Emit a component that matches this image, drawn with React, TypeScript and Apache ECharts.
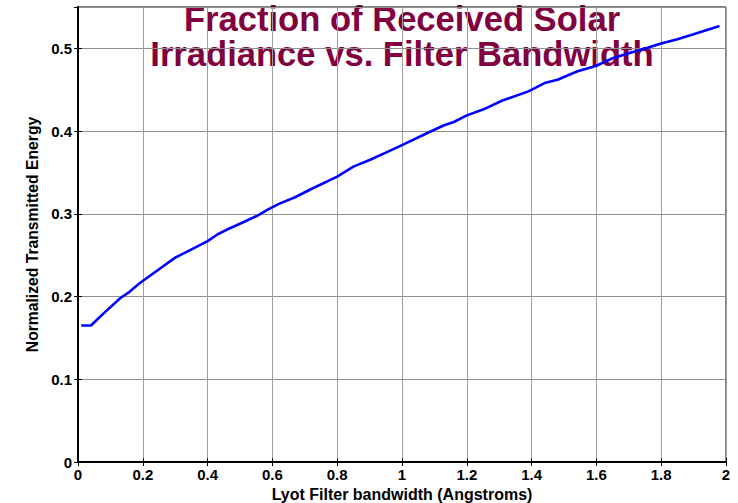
import React, { useEffect, useRef } from "react";
import * as echarts from "echarts";

const bandwidth = [0.01, 0.04, 0.08, 0.13, 0.16, 0.19, 0.25, 0.30, 0.34, 0.40, 0.43, 0.46, 0.50, 0.55, 0.59, 0.62, 0.67, 0.72, 0.80, 0.85, 0.90, 0.95, 1.00, 1.08, 1.13, 1.16, 1.20, 1.25, 1.31, 1.39, 1.44, 1.48, 1.54, 1.60, 1.65, 1.70, 1.76, 1.80, 1.85, 1.90, 1.98];
const energy = [0.165, 0.165, 0.180, 0.198, 0.206, 0.216, 0.233, 0.247, 0.255, 0.267, 0.275, 0.281, 0.288, 0.297, 0.306, 0.312, 0.320, 0.330, 0.345, 0.357, 0.365, 0.374, 0.383, 0.398, 0.407, 0.411, 0.419, 0.426, 0.437, 0.448, 0.458, 0.462, 0.472, 0.479, 0.488, 0.494, 0.501, 0.506, 0.511, 0.517, 0.527];

const titleLines = ["Fraction of Received Solar", "Irradiance vs. Filter Bandwidth"];
const xName = "Lyot Filter bandwidth (Angstroms)";
const yName = "Normalized Transmitted Energy";

const FONT = "'Liberation Sans', Arial, Helvetica, sans-serif";

export default function App() {
  const ref = useRef<HTMLDivElement>(null);
  useEffect(() => {
    if (!ref.current) return;
    const chart = echarts.init(ref.current, null, { renderer: "svg" });
    const labelStyle = { color: "#000", fontWeight: "bold" as const, fontSize: 15, fontFamily: FONT };
    chart.setOption({
      animation: false,
      backgroundColor: "#fff",
      grid: {
        left: 78, right: 12, top: 7, bottom: 41,
        containLabel: false, outerBoundsMode: "none",
        show: true, borderColor: "#000", borderWidth: 1, backgroundColor: "transparent", z: 0,
      },
      graphic: titleLines.map((t, i) => ({
        type: "text",
        x: 402,
        y: 19 + i * 34.5,
        z: -10,
        silent: true,
        style: {
          text: t,
          fill: "#800040",
          font: `bold 34.6px ${FONT}`,
          align: "center",
          verticalAlign: "middle",
          lineHeight: 30,
        },
      })),
      xAxis: [
        {
          type: "value",
          min: 0,
          max: 2,
          interval: 0.2,
          name: xName,
          nameLocation: "middle",
          nameGap: 23,
          nameTextStyle: { color: "#000", fontWeight: "bold", fontSize: 16, fontFamily: FONT },
          axisLine: { show: true, lineStyle: { color: "#000", width: 2 } },
          axisTick: { show: true, inside: true, length: 4, lineStyle: { color: "#000" } },
          axisLabel: { ...labelStyle, margin: 5 },
          splitLine: { show: true, lineStyle: { color: "#a0a0a0", width: 1 } },
        },
        {
          type: "value",
          position: "top",
          min: 0,
          max: 2,
          interval: 0.2,
          axisLine: { show: true, lineStyle: { color: "#000", width: 1.5 } },
          axisTick: { show: true, inside: true, length: 4, lineStyle: { color: "#000" } },
          axisLabel: { show: false },
          splitLine: { show: false },
        },
      ],
      yAxis: [
        {
          type: "value",
          min: 0,
          max: 0.55,
          interval: 0.1,
          name: yName,
          nameLocation: "middle",
          nameGap: 31,
          nameTextStyle: { color: "#000", fontWeight: "bold", fontSize: 15.7, fontFamily: FONT },
          axisLine: { show: true, lineStyle: { color: "#000", width: 2 } },
          axisTick: { show: true, inside: true, length: 4, lineStyle: { color: "#000" } },
          axisLabel: { ...labelStyle, margin: 6, showMaxLabel: false },
          splitLine: { show: true, lineStyle: { color: "#909090", width: 1 } },
        },
        {
          type: "value",
          position: "right",
          min: 0,
          max: 0.55,
          interval: 0.1,
          axisLine: { show: true, lineStyle: { color: "#000", width: 1.5 } },
          axisTick: { show: true, inside: true, length: 4, lineStyle: { color: "#000" } },
          axisLabel: { show: false },
          splitLine: { show: false },
        },
      ],
      series: [
        {
          type: "line",
          xAxisIndex: 0,
          yAxisIndex: 0,
          data: bandwidth.map((b, i) => [b, energy[i]]),
          showSymbol: false,
          symbol: "none",
          lineStyle: { color: "#0000ff", width: 2.6 },
          z: 5,
        },
      ],
    });
    return () => chart.dispose();
  }, []);
  return <div ref={ref} style={{ width: 738, height: 503, position: "absolute", left: 0, top: 0 }} />;
}
